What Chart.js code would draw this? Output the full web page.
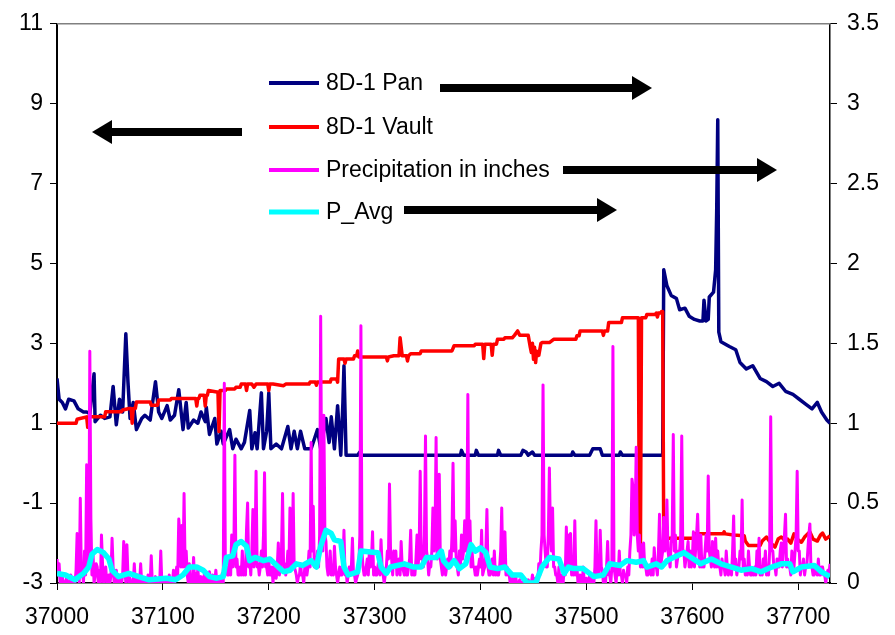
<!DOCTYPE html>
<html>
<head>
<meta charset="utf-8">
<script src="https://cdn.jsdelivr.net/npm/chart.js@4/dist/chart.umd.min.js"></script>
<style>
  body { margin: 0; background: #fff; }
  canvas { display: block; }
</style>
</head>
<body>
<canvas id="pondChart" width="895" height="635" style="width:895px;height:635px"></canvas>
<script>
// day numbers are offsets from START
const START = 37000;
const X_END = 37730;
const xTicks = [37000, 37100, 37200, 37300, 37400, 37500, 37600, 37700];
const leftTicks = [-3, -1, 1, 3, 5, 7, 9, 11];
const rightTicks = [0, 0.5, 1, 1.5, 2, 2.5, 3, 3.5];

// 8D-1 Pan (right axis)
const panDays = [0, 2, 5, 8, 11, 16, 20, 25, 28, 31, 35, 36, 41, 45, 50, 53, 56, 59, 62, 65, 67, 69, 72, 75, 80, 83, 88, 93, 96, 99,
  104, 107, 111, 115, 119, 122, 124, 129, 133, 136, 140, 141, 144, 149, 151, 155, 157, 163, 166, 169, 174, 177, 182, 184, 187, 189,
  193, 195, 198, 200, 202, 207, 212, 218, 221, 224, 227, 230, 234, 240, 246, 249, 254, 257, 259, 262, 265, 268, 270, 271, 273, 278,
  284, 286, 288, 381, 382, 384, 395, 396, 398, 416, 417, 419, 438, 440, 443, 445, 449, 451, 486, 487, 489, 503, 506, 513, 515, 531,
  532, 534, 572, 573, 576, 580, 585, 588, 593, 597, 602, 607, 610, 611, 613, 615, 616, 620, 622, 623, 624, 625, 627, 635, 641, 645,
  651, 657, 664, 670, 676, 682, 688, 695, 701, 707, 713, 718, 722, 727, 730];
const panValues = [1.28, 1.15, 1.13, 1.09, 1.15, 1.14, 1.09, 1.07, 1.07, 1.06, 1.31, 1.01, 1.05, 1.03, 1.04, 1.23, 0.99, 1.15, 1.07, 1.56, 1.26, 1.03, 1.13, 0.96, 1.03, 1.05, 1.02, 1.26, 1.07, 1.03,
  1.11, 1.02, 1.05, 1.21, 0.96, 1.13, 0.97, 1.02, 1.0, 1.07, 1.01, 1.1, 0.93, 1.03, 0.87, 0.95, 0.87, 0.96, 0.84, 0.9, 0.84, 0.88, 1.08, 0.84, 0.94, 0.84,
  1.19, 0.84, 0.95, 1.19, 0.84, 0.87, 0.84, 0.98, 0.84, 0.95, 0.84, 0.95, 0.84, 0.84, 0.96, 0.84, 1.03, 0.88, 1.04, 0.84, 1.11, 0.8, 1.13, 1.36, 0.8, 0.8,
  0.8, 0.82, 0.8, 0.8, 0.83, 0.8, 0.8, 0.83, 0.8, 0.8, 0.83, 0.8, 0.8, 0.83, 0.82, 0.8, 0.82, 0.8, 0.8, 0.82, 0.8, 0.8, 0.84, 0.84, 0.8, 0.8,
  0.82, 0.8, 0.8, 1.96, 1.86, 1.8, 1.78, 1.71, 1.72, 1.67, 1.65, 1.64, 1.64, 1.77, 1.64, 1.65, 1.79, 1.82, 1.96, 2.33, 2.9, 1.57, 1.51, 1.48, 1.46, 1.38,
  1.34, 1.36, 1.28, 1.26, 1.23, 1.25, 1.2, 1.18, 1.15, 1.12, 1.09, 1.13, 1.07, 1.02, 1.0];

// 8D-1 Vault (left axis)
const vaultDays = [0, 18, 19, 28, 29, 30, 40, 45, 46, 61, 62, 68, 70, 71, 72, 74, 75, 88, 89, 95, 96, 107, 108, 131, 132, 133, 134, 135,
  139, 140, 141, 142, 143, 151, 152, 153, 154, 159, 160, 168, 169, 173, 174, 178, 179, 180, 184, 186, 188, 195, 199, 200, 201, 204, 214,
  216, 228, 238, 239, 244, 245, 246, 258, 259, 264, 265, 266, 271, 272, 273, 280, 281, 283, 284, 285, 311, 312, 313, 318, 323, 324, 326,
  330, 331, 332, 334, 343, 344, 373, 375, 394, 395, 402, 403, 404, 410, 411, 412, 415, 416, 422, 423, 430, 432, 435, 437, 445, 447, 448,
  449, 450, 451, 452, 453, 455, 457, 458, 465, 469, 490, 491, 493, 494, 515, 516, 517, 520, 521, 533, 534, 549, 550, 551, 552, 556, 557,
  565, 566, 567, 568, 570, 571, 572, 573, 575, 577, 601, 602, 614, 615, 616, 629, 630, 631, 639, 649, 650, 653, 664, 666, 670, 674, 678,
  681, 684, 688, 690, 693, 696, 699, 703, 706, 711, 714, 718, 721, 723, 726, 730];
const vaultValues = [1.0, 1.0, 1.1, 1.16, 0.9, 1.16, 1.16, 1.16, 1.29, 1.29, 1.33, 1.37, 1.37, 1.0, 1.37, 1.37, 1.53, 1.53, 1.45, 1.45, 1.58, 1.58, 1.62, 1.62, 1.43, 1.62, 1.62, 1.7,
  1.7, 1.43, 1.7, 1.7, 1.82, 1.78, 1.78, 0.79, 1.82, 1.82, 1.86, 1.86, 1.9, 1.9, 1.98, 1.98, 1.82, 1.98, 1.98, 1.9, 1.98, 1.98, 1.98, 1.82, 1.98, 1.98, 1.94,
  1.98, 1.98, 1.98, 2.03, 2.03, 1.95, 2.03, 2.03, 2.11, 2.11, 2.03, 2.61, 2.61, 2.5, 2.61, 2.61, 2.69, 2.69, 2.81, 2.66, 2.66, 2.56, 2.66, 2.69, 2.69, 3.14, 2.69,
  2.69, 2.56, 2.69, 2.74, 2.74, 2.81, 2.81, 2.94, 2.94, 2.98, 2.98, 2.62, 2.98, 2.98, 2.7, 2.98, 2.98, 3.1, 3.1, 3.14, 3.14, 3.2, 3.31, 3.2, 3.2, 2.9, 2.77,
  3.0, 2.6, 2.9, 2.52, 2.8, 2.7, 3.0, 3.02, 3.02, 3.1, 3.1, 3.19, 3.19, 3.31, 3.31, 3.2, 3.31, 3.31, 3.52, 3.52, 3.64, 3.64, -2.02, -2.02, 3.64, 3.64, 3.72,
  3.72, 3.76, 3.66, 3.76, 3.76, 3.8, 3.8, -1.93, -2.02, -1.88, -1.88, -1.77, -1.77, -1.72, -1.77, -1.77, -1.72, -1.77, -1.8, -1.82, -1.95, -2.06, -2.06, -1.95, -1.85, -2.0, -2.1,
  -1.9, -1.85, -1.95, -1.9, -2.0, -1.77, -1.9, -1.98, -1.85, -1.72, -1.9, -1.95, -1.8, -1.75, -1.9, -1.82];

// Precipitation in inches (right axis), one value per day from START, 20 days per row
const rainDaily = [
  0.15, 0.05, 0.12, 0, 0, 0.04, 0, 0, 0, 0.03, 0, 0, 0, 0.05, 0, 0, 0.02, 0, 0.08, 0.31,
  0.1, 0, 0.53, 0.05, 0.08, 0, 0.2, 0.05, 0.74, 0.3, 0.1, 1.45, 0.4, 0.05, 0.19, 0, 0.05, 0.12, 0.1, 0,
  0.08, 0, 0.3, 0.12, 0, 0.05, 0.1, 0, 0, 0.05, 0, 0.05, 0.28, 0.1, 0, 0, 0.08, 0, 0, 0.04,
  0, 0, 0.05, 0.26, 0.1, 0, 0.24, 0.05, 0, 0.03, 0, 0, 0, 0.12, 0, 0, 0.05, 0, 0, 0.12,
  0, 0, 0, 0.03, 0, 0, 0.05, 0, 0, 0.17, 0, 0, 0, 0.04, 0, 0, 0, 0, 0.2, 0,
  0, 0, 0.03, 0, 0, 0, 0.05, 0, 0, 0, 0.08, 0, 0.03, 0.1, 0.05, 0.4, 0.3, 0.1, 0.36, 0.1,
  0.56, 0.1, 0.2, 0.05, 0, 0.12, 0, 0.05, 0, 0.16, 0, 0.06, 0, 0.09, 0, 0, 0.04, 0, 0, 0.05,
  0, 0.06, 0, 0, 0.07, 0, 0, 0.05, 0, 0, 0.08, 0, 0, 0.03, 0, 0, 0.06, 0, 1.25, 0.1,
  0.1, 0.05, 0.05, 0.15, 0.05, 0.3, 0.1, 0.2, 0.8, 0.1, 0.15, 0.05, 0.05, 0.1, 0.05, 0.2, 0.05, 0.1, 0.05, 0.34,
  0.5, 0.1, 0.15, 0.05, 0.2, 0.46, 0.1, 0.2, 0.7, 0.1, 0.12, 0.05, 0.1, 0.2, 0.1, 0.3, 0.69, 0.1, 0.1, 0.05,
  0.15, 0.05, 0.05, 0.1, 0, 0.1, 0.05, 0.03, 0.1, 0.25, 0.05, 0.1, 0.2, 0.56, 0.1, 0.12, 0.05, 0.1, 0.2, 0.1,
  0.47, 0.2, 0.1, 0.56, 0.1, 0.08, 0.05, 0, 0.04, 0.05, 0.12, 0.05, 0.05, 0, 0.1, 0.1, 0.05, 0.1, 0.2, 0.1,
  0.88, 0.2, 0.48, 0.1, 0.15, 0.1, 0.2, 0.1, 0.3, 1.67, 0.5, 0.2, 1.05, 0.3, 0.26, 0.1, 0.05, 0.1, 0.2, 0.05,
  0.1, 0.05, 0.23, 0.1, 0.05, 0, 0.05, 0.1, 0.05, 0.05, 0.1, 0.33, 0.05, 0.08, 0, 0.05, 0.1, 0.05, 0.1, 0.28,
  0.05, 0.05, 0, 0.03, 0.05, 0.1, 0.3, 1.61, 0.2, 0.1, 0.05, 0.05, 0.1, 0.15, 0.05, 0.2, 0.1, 0.15, 0.32, 0.05,
  0.1, 0.05, 0.05, 0.1, 0.15, 0.05, 0.27, 0.1, 0.05, 0, 0.05, 0.1, 0.2, 0.15, 0.62, 0.2, 0.15, 0.05, 0.2, 0.1,
  0.2, 0.05, 0.1, 0.15, 0.05, 0.26, 0.1, 0.08, 0.05, 0.1, 0.05, 0.05, 0.1, 0.15, 0.33, 0.05, 0.1, 0.05, 0.05, 0.15,
  0.3, 0.1, 0.2, 0.7, 0.15, 0.2, 0.1, 0.3, 0.92, 0.2, 0.15, 0.05, 0.12, 0.1, 0.2, 0.47, 0.2, 0.3, 0.91, 0.15,
  0.2, 0.68, 0.15, 0.1, 0.05, 0.16, 0.1, 0.05, 0.1, 0.15, 0.1, 0.2, 0.1, 0.3, 0.75, 0.2, 0.39, 0.15, 0.1, 0.05,
  0.2, 0.1, 0.3, 0.15, 0.2, 0.39, 0.2, 0.3, 1.18, 0.2, 0.39, 0.1, 0.2, 0.1, 0.1, 0.05, 0.1, 0.05, 0.1, 0.15,
  0.1, 0.33, 0.05, 0.08, 0.1, 0.2, 0.46, 0.1, 0.05, 0.05, 0.1, 0.15, 0.05, 0.2, 0.05, 0.1, 0.05, 0.05, 0.1, 0.2,
  0.47, 0.1, 0.2, 0.32, 0.05, 0.1, 0.05, 0.05, 0, 0, 0.03, 0, 0, 0.05, 0, 0, 0, 0.02, 0, 0,
  0, 0.03, 0, 0, 0, 0.02, 0, 0, 0, 0.05, 0, 0, 0.03, 0, 0, 0.12, 0.05, 0.2, 0.3, 1.24,
  0.3, 0.2, 0.1, 0.1, 0.3, 0.72, 0.3, 0.2, 0.47, 0.1, 0.1, 0.05, 0.05, 0, 0.1, 0, 0, 0.05, 0, 0.1,
  0.05, 0.35, 0.1, 0.3, 0.1, 0.31, 0.05, 0.1, 0.05, 0.39, 0.05, 0.1, 0, 0, 0.05, 0, 0, 0.1, 0, 0,
  0.03, 0, 0, 0.05, 0, 0, 0.04, 0, 0.1, 0.39, 0.05, 0.1, 0.05, 0.33, 0.1, 0.08, 0, 0.05, 0, 0.1,
  0.26, 0.05, 0.05, 0, 0.1, 1.48, 0.1, 0.05, 0, 0.1, 0.05, 0.2, 0.05, 0.05, 0, 0.08, 0.05, 0.05, 0, 0.1,
  0.05, 0.2, 0.3, 0.65, 0.6, 0.3, 0.4, 0.85, 0.3, 0.2, 0.3, 0.1, 0.24, 0.1, 0.25, 0.1, 0.1, 0.05, 0.05, 0.1,
  0.1, 0.05, 0.15, 0.05, 0.22, 0.1, 0.1, 0.05, 0.2, 0.43, 0.1, 0.15, 0.2, 0.41, 0.2, 0.3, 0.52, 0.2, 0.15, 0.1,
  0.25, 0.3, 0.93, 0.2, 0.3, 0.1, 0.15, 0.2, 0.2, 0.3, 0.92, 0.2, 0.2, 0.1, 0.15, 0.2, 0.26, 0.1, 0.2, 0.1,
  0.15, 0.32, 0.1, 0.2, 0.3, 0.43, 0.2, 0.1, 0.3, 0.1, 0.15, 0.1, 0.2, 0.3, 0.2, 0.67, 0.2, 0.15, 0.1, 0.26,
  0.15, 0.1, 0.28, 0.1, 0.2, 0.1, 0.1, 0.05, 0.15, 0.1, 0.1, 0.05, 0.2, 0.1, 0.05, 0.1, 0.1, 0.05, 0.2, 0.42,
  0.1, 0.15, 0.05, 0.1, 0.1, 0.2, 0.15, 0.52, 0.1, 0.15, 0.05, 0.1, 0.05, 0.2, 0.1, 0.05, 0.05, 0.08, 0.05, 0.1,
  0.05, 0.2, 0.1, 0.28, 0.05, 0.1, 0.05, 0.15, 0.1, 0.2, 0.05, 0.1, 0.05, 0.2, 1.04, 0.2, 0.2, 0.1, 0.1, 0.05,
  0.15, 0.1, 0.1, 0.2, 0.25, 0.1, 0.2, 0.3, 0.43, 0.1, 0.15, 0.1, 0.1, 0.05, 0.2, 0.1, 0.1, 0.2, 0.3, 0.7,
  0.2, 0.2, 0.05, 0.1, 0.1, 0.15, 0.05, 0.1, 0.1, 0.2, 0.3, 0.37, 0.1, 0.1, 0.05, 0.05, 0.1, 0.1, 0.05, 0.15,
  0.05, 0.05, 0.1, 0.1, 0.05, 0.05, 0, 0.05, 0.08, 0.05, 0.12];

// P_Avg (right axis)
const avgDays = [0, 8, 17, 25, 30, 33, 38, 44, 49, 52, 58, 68, 77, 87, 103, 112, 119, 125, 132, 138, 144, 151, 157, 160, 166, 169, 174,
  179, 182, 187, 195, 201, 209, 214, 220, 226, 232, 240, 245, 249, 254, 259, 262, 268, 271, 275, 284, 287, 303, 306, 311, 315, 328, 337,
  344, 349, 358, 363, 365, 370, 375, 380, 386, 391, 395, 400, 405, 409, 416, 423, 430, 438, 444, 452, 458, 465, 474, 479, 483, 488, 497,
  507, 516, 522, 532, 538, 547, 554, 557, 566, 571, 576, 582, 592, 601, 608, 618, 627, 637, 646, 656, 665, 675, 684, 692, 695, 703, 715,
  722, 730];
const avgValues = [0.06, 0.05, 0.02, 0.06, 0.1, 0.18, 0.21, 0.19, 0.15, 0.08, 0.04, 0.06, 0.04, 0.02, 0.03, 0.02, 0.05, 0.1, 0.1, 0.08, 0.04, 0.03, 0.04, 0.16, 0.17, 0.24, 0.26,
  0.23, 0.14, 0.16, 0.14, 0.15, 0.1, 0.07, 0.08, 0.12, 0.11, 0.14, 0.1, 0.23, 0.33, 0.31, 0.27, 0.26, 0.1, 0.05, 0.07, 0.2, 0.19, 0.1, 0.06, 0.1, 0.12, 0.1,
  0.1, 0.16, 0.16, 0.2, 0.14, 0.1, 0.14, 0.09, 0.12, 0.24, 0.2, 0.22, 0.19, 0.1, 0.09, 0.1, 0.05, 0.05, 0.0, 0.0, 0.1, 0.16, 0.15, 0.06, 0.1, 0.09, 0.09,
  0.04, 0.05, 0.12, 0.11, 0.14, 0.13, 0.14, 0.1, 0.12, 0.1, 0.14, 0.16, 0.19, 0.15, 0.12, 0.15, 0.12, 0.1, 0.08, 0.09, 0.07, 0.1, 0.12, 0.12, 0.07, 0.1, 0.11,
  0.07, 0.04];

// legend entries, top to bottom
const legendNames = ['8D-1 Pan', '8D-1 Vault', 'Precipitation in inches', 'P_Avg'];
const legendColors = ['#000080', '#ff0000', '#ff00ff', '#00ffff'];

const FONT = 'Liberation Sans, Arial, sans-serif';
const toPoints = (days, vals) => days.map((d, i) => ({ x: START + d, y: vals[i] }));

// legend + arrows + top frame line
const overlay = {
  id: 'overlay',
  afterDraw(chart) {
    const { ctx, chartArea } = chart;
    ctx.save();
    ctx.strokeStyle = '#808080';
    ctx.lineWidth = 1.5;
    ctx.beginPath();
    ctx.moveTo(chartArea.left, chartArea.top);
    ctx.lineTo(chartArea.right, chartArea.top);
    ctx.stroke();

    const rowY = [83, 127, 170, 212];
    ctx.font = '23px ' + FONT;
    ctx.textBaseline = 'middle';
    ctx.fillStyle = '#000';
    legendNames.forEach((name, i) => {
      ctx.strokeStyle = legendColors[i];
      ctx.lineWidth = i === 3 ? 5 : 4;
      ctx.beginPath();
      ctx.moveTo(269, rowY[i]);
      ctx.lineTo(319, rowY[i]);
      ctx.stroke();
      ctx.fillText(name, 326, rowY[i] + 1);
    });

    const arrow = (tail, tip, y) => {
      const dir = tip > tail ? 1 : -1;
      const base = tip - dir * 20;
      ctx.fillStyle = '#000';
      ctx.fillRect(Math.min(tail, base), y - 4, Math.abs(base - tail), 8);
      ctx.beginPath();
      ctx.moveTo(tip, y);
      ctx.lineTo(base, y - 12);
      ctx.lineTo(base, y + 12);
      ctx.closePath();
      ctx.fill();
    };
    arrow(242, 92, 132);
    arrow(440, 652, 88);
    arrow(563, 777, 170);
    arrow(404, 617, 210);
    ctx.restore();
  },
};

const tickFont = { family: FONT, size: 23 };

new Chart(document.getElementById('pondChart'), {
  type: 'line',
  data: {
    datasets: [
      {
        label: 'P_Avg',
        data: toPoints(avgDays, avgValues),
        yAxisID: 'yR',
        borderColor: '#00ffff',
        borderWidth: 5.5,
        order: 0,
      },
      {
        label: 'Precipitation in inches',
        data: rainDaily.map((v, i) => ({ x: START + i, y: v })),
        yAxisID: 'yR',
        borderColor: '#ff00ff',
        borderWidth: 3,
        order: 1,
      },
      {
        label: '8D-1 Vault',
        data: toPoints(vaultDays, vaultValues),
        yAxisID: 'yL',
        borderColor: '#ff0000',
        borderWidth: 3.5,
        order: 2,
      },
      {
        label: '8D-1 Pan',
        data: toPoints(panDays, panValues),
        yAxisID: 'yR',
        borderColor: '#000080',
        borderWidth: 3.5,
        order: 3,
      },
    ],
  },
  options: {
    responsive: false,
    animation: false,
    layout: { padding: { top: 19, left: 0, right: 0, bottom: 0 } },
    plugins: { legend: { display: false }, tooltip: { enabled: false } },
    elements: {
      point: { radius: 0 },
      line: { tension: 0, fill: false, borderJoinStyle: 'round' },
    },
    scales: {
      x: {
        type: 'linear',
        min: START,
        max: X_END,
        afterBuildTicks: s => { s.ticks = xTicks.map(v => ({ value: v })); },
        afterFit: s => { s.height = 52; },
        ticks: { callback: v => String(v), font: tickFont, color: '#000', padding: 14, maxRotation: 0 },
        grid: { drawOnChartArea: false, tickLength: 7, color: '#000' },
        border: { color: '#000', width: 1.5 },
      },
      yL: {
        type: 'linear',
        position: 'left',
        min: -3,
        max: 11,
        afterBuildTicks: s => { s.ticks = leftTicks.map(v => ({ value: v })); },
        afterFit: s => { s.width = 57; },
        ticks: { callback: v => String(v), font: tickFont, color: '#000', padding: 7 },
        grid: { drawOnChartArea: false, tickLength: 7, color: '#000' },
        border: { color: '#000', width: 2 },
      },
      yR: {
        type: 'linear',
        position: 'right',
        min: 0,
        max: 3.5,
        afterBuildTicks: s => { s.ticks = rightTicks.map(v => ({ value: v })); },
        afterFit: s => { s.width = 65; },
        ticks: { callback: v => String(v), font: tickFont, color: '#000', padding: 10 },
        grid: { drawOnChartArea: false, tickLength: 7, color: '#000' },
        border: { color: '#000', width: 1.5 },
      },
    },
  },
  plugins: [overlay],
});
</script>
</body>
</html>
